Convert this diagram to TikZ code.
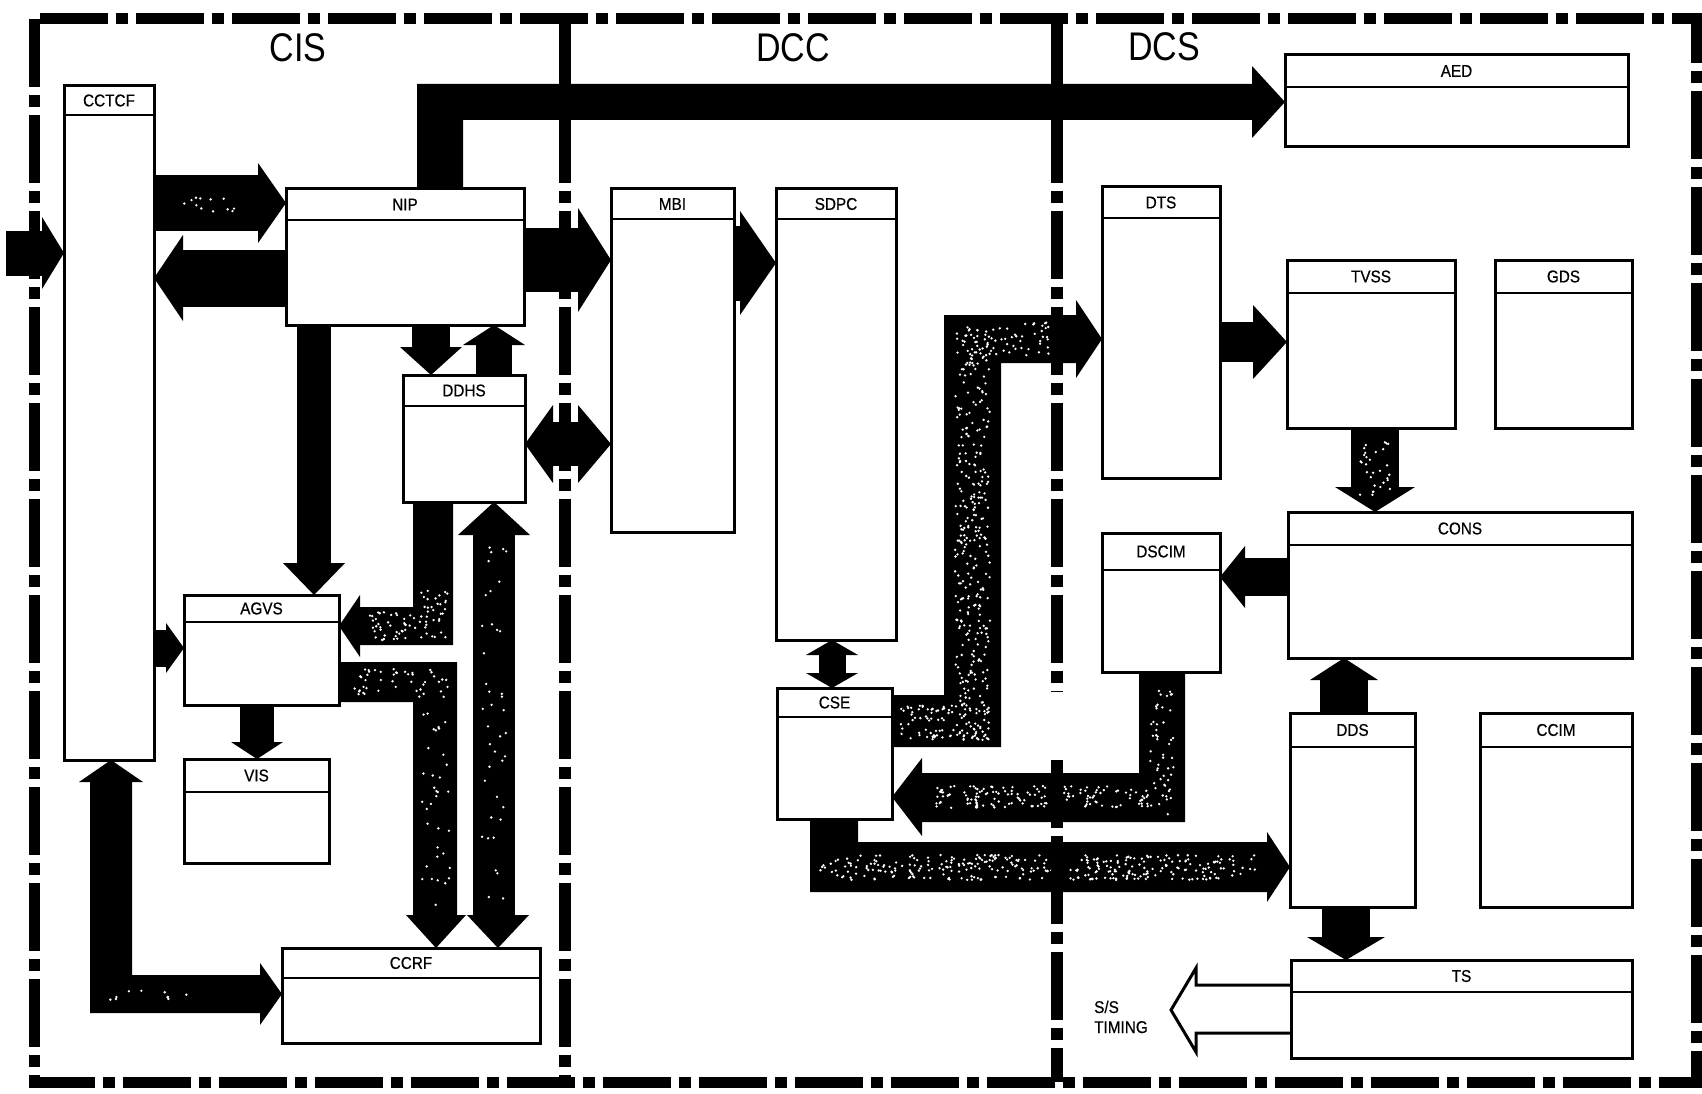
\documentclass[tikz,border=0pt]{standalone}
\usepackage{fontspec}
\usepackage{graphicx}
\setmainfont{Liberation Sans}
\newfontfamily\labfont{Liberation Sans}[FakeBold=0.6]
\usetikzlibrary{calc}
\pgfdeclarelayer{bg}
\pgfsetlayers{bg,main}
\tikzset{
 box/.style={draw, line width=3, fill=white, inner sep=0, outer sep=0, anchor=north west},
 hdr/.style={line width=2.2},
 lbl/.style={inner sep=0, font=\labfont\fontsize{17}{20}\selectfont},
 sect/.style={inner sep=0, font=\fontsize{40}{44}\selectfont},
 shaft/.style={draw=black, line width=#1, line cap=butt},
 divider/.style={draw=black, line width=12, dash pattern=on 68pt off 8pt on 12pt off 8pt},
 hollow/.style={draw=black, fill=white, line width=3, line join=miter},
}
\newcommand\unitbox[7]{%
 \node[box, minimum width=#4, minimum height=#5] (#1) at (#2,#3) {};
 \draw[hdr] ($(#1.north west)+(0,#6)$) -- ($(#1.north east)+(0,#6)$);
 \node[lbl] (#1-t) at ($(#1.north)+(0,#6/2)$) {\scalebox{0.9}[1]{#7}};}
\newcommand\headR[3]{\fill #1 -- ++(-#3,#2) -- ++(0,{-2*#2}) -- cycle;}
\newcommand\headL[3]{\fill #1 -- ++(#3,#2) -- ++(0,{-2*#2}) -- cycle;}
\newcommand\headD[3]{\fill #1 -- ++(#2,-#3) -- ++({-2*#2},0) -- cycle;}
\newcommand\headU[3]{\fill #1 -- ++(#2,#3) -- ++({-2*#2},0) -- cycle;}
\newcommand\speck[5]{\foreach \k in {1,...,#5}{\fill[white] ({#1+rnd*(#3-#1)},{#2+rnd*(#4-#2)}) circle[radius=1.3];}}
\begin{document}
\begin{tikzpicture}[x=1pt,y=-1pt]
\useasboundingbox (0,0) rectangle (1702,1094);
% ---- boxes ----
\unitbox{cctcf}{64}{86}{90}{674}{29}{CCTCF}
\unitbox{nip}{286}{189}{238}{136}{31}{NIP}
\unitbox{mbi}{611}{189}{123}{343}{30}{MBI}
\unitbox{sdpc}{776}{189}{120}{451}{30}{SDPC}
\unitbox{dts}{1102}{187}{118}{291}{31}{DTS}
\unitbox{aed}{1285}{55}{343}{92}{32}{AED}
\unitbox{tvss}{1287}{260}{168}{168}{33}{TVSS}
\unitbox{gds}{1495}{260}{137}{168}{33}{GDS}
\unitbox{ddhs}{403}{375}{122}{127}{31}{DDHS}
\unitbox{agvs}{184}{595}{155}{110}{27}{AGVS}
\unitbox{vis}{184}{759}{145}{104}{33}{VIS}
\unitbox{ccrf}{282}{948}{258}{95}{30}{CCRF}
\unitbox{cse}{777}{688}{115}{131}{29}{CSE}
\unitbox{dscim}{1102}{533}{118}{139}{37}{DSCIM}
\unitbox{cons}{1288}{512}{344}{146}{33}{CONS}
\unitbox{dds}{1290}{713}{125}{194}{34}{DDS}
\unitbox{ccim}{1480}{713}{152}{194}{34}{CCIM}
\unitbox{ts}{1291}{960}{341}{98}{32}{TS}
% ---- section labels ----
\node[sect] (cis) at (298,48) {\scalebox{0.85}[1]{CIS}};
\node[sect] (dcc) at (793,48) {\scalebox{0.85}[1]{DCC}};
\node[sect] (dcs) at (1164,47) {\scalebox{0.85}[1]{DCS}};
\node[lbl, anchor=base west] (ss1) at (1094,1013) {\scalebox{0.9}[1]{S/S}};
\node[lbl, anchor=base west] (ss2) at (1094,1033) {\scalebox{0.9}[1]{TIMING}};
\begin{pgfonlayer}{bg}
\fill[white] (0,0) rectangle (1702,1094);
\pgfmathsetseed{7}
% 1 input -> CCTCF
\coordinate (in1) at (6,253);
\draw[shaft=45] (in1) -- ($(cctcf.west |- in1)+(-21,0)$);
\headR{(cctcf.west |- in1)}{36}{22}
% 2 CCTCF -> NIP
\draw[shaft=55] (cctcf.east |- 0,203) -- ($(nip.west |- 0,203)+(-27,0)$);
\headR{(nip.west |- 0,203)}{40}{28}
\speck{175}{196}{235}{212}{12}
% 3 NIP -> CCTCF
\draw[shaft=57] (nip.west |- 0,278) -- ($(cctcf.east |- 0,278)+(28,0)$);
\headL{(cctcf.east |- 0,278)}{43}{29}
% 4 NIP -> MBI
\draw[shaft=64] (nip.east |- 0,260) -- ($(mbi.west |- 0,260)+(-32,0)$);
\headR{(mbi.west |- 0,260)}{52}{33}
% 5 MBI -> SDPC
\draw[shaft=75] (mbi.east |- 0,263) -- ($(sdpc.west |- 0,263)+(-35,0)$);
\headR{(sdpc.west |- 0,263)}{52}{36}
% 6 NIP -> AED
\fill (nip.north -| 417,0) -- (417,84) -- (1253,84) -- (1253,120) -- (463,120) -- (nip.north -| 463,0) -- cycle;
\headR{(aed.west |- 0,102)}{36}{33}
% 7 NIP -> DDHS
\draw[shaft=38] (nip.south -| 431,0) -- ($(ddhs.north -| 431,0)+(0,-27)$);
\headD{(ddhs.north -| 431,0)}{31}{28}
% 8 DDHS -> NIP
\draw[shaft=36] (ddhs.north -| 494,0) -- ($(nip.south -| 494,0)+(0,19)$);
\headU{(nip.south -| 494,0)}{31}{20}
% 9 NIP -> AGVS
\draw[shaft=34] (nip.south -| 314,0) -- ($(agvs.north -| 314,0)+(0,-31)$);
\headD{(agvs.north -| 314,0)}{31}{32}
% 10 DDHS -> AGVS
\fill (ddhs.south -| 413,0) -- (413,607) -- (359,607) -- (359,645) -- (453,645) -- (ddhs.south -| 453,0) -- cycle;
\headL{(agvs.east |- 0,626)}{31}{21}
\speck{370}{612}{448}{640}{55}
\speck{420}{590}{448}{615}{20}
% 11 AGVS -> CCRF
\fill (agvs.east |- 0,662) -- (457,662) -- (457,916) -- (413,916) -- (413,702) -- (agvs.east |- 0,702) -- cycle;
\headD{(ccrf.north -| 436,0)}{30}{33}
\speck{350}{668}{452}{698}{45}
\speck{422}{700}{450}{905}{35}
% 12 CCRF <-> DDHS
\draw[shaft=42] ($(ddhs.south -| 494,0)+(0,32)$) -- ($(ccrf.north -| 494,0)+(0,-32)$);
\headU{(ddhs.south -| 494,0)}{36}{33}
\headD{(ccrf.north -| 498,0)}{31}{33}
\speck{482}{545}{507}{900}{40}
% 13 CCTCF -> AGVS
\draw[shaft=37] (cctcf.east |- 0,648) -- ($(agvs.west |- 0,648)+(-17,0)$);
\headR{(agvs.west |- 0,648)}{25}{18}
% 14 AGVS -> VIS
\draw[shaft=34] (agvs.south -| 257,0) -- ($(vis.north -| 257,0)+(0,-16)$);
\headD{(vis.north -| 257,0)}{26}{17}
% 15 CCTCF <-> CCRF
\fill (90,781) -- (90,1013) -- (261,1013) -- (261,975) -- (132,975) -- (132,781) -- cycle;
\headU{(cctcf.south -| 111,0)}{32}{22}
\headR{(ccrf.west |- 0,994)}{31}{22}
\speck{105}{986}{215}{1000}{10}
% 16 DDHS <-> MBI
\draw[shaft=44] ($(ddhs.east |- 0,444)+(27,0)$) -- ($(mbi.west |- 0,444)+(-32,0)$);
\headL{(ddhs.east |- 0,444)}{39}{28}
\headR{(mbi.west |- 0,444)}{39}{33}
% 17 SDPC <-> CSE
\draw[shaft=27] ($(sdpc.south -| 832,0)+(0,14)$) -- ($(cse.north -| 832,0)+(0,-14)$);
\headU{(sdpc.south -| 832,0)}{26}{15}
\headD{(cse.north -| 832,0)}{26}{15}
% 18 CSE -> DTS
\fill (cse.east |- 0,695) -- (944,695) -- (944,315) -- (1077,315) -- (1077,363) -- (1001,363) -- (1001,747) -- (cse.east |- 0,747) -- cycle;
\headR{(dts.west |- 0,339)}{39}{26}
\speck{955}{330}{990}{740}{320}
\speck{900}{705}{990}{740}{90}
\speck{960}{322}{1060}{356}{60}
% 19 DTS -> TVSS
\draw[shaft=40] (dts.east |- 0,342) -- ($(tvss.west |- 0,342)+(-33,0)$);
\headR{(tvss.west |- 0,342)}{37}{34}
% 20 TVSS -> CONS
\draw[shaft=48] (tvss.south -| 1375,0) -- ($(cons.north -| 1375,0)+(0,-24)$);
\headD{(cons.north -| 1375,0)}{40}{25}
\speck{1360}{440}{1390}{495}{30}
% 21 CONS -> DSCIM
\draw[shaft=38] (cons.west |- 0,577) -- ($(dscim.east |- 0,577)+(24,0)$);
\headL{(dscim.east |- 0,577)}{31}{25}
% 22 DDS -> CONS
\draw[shaft=48] (dds.north -| 1344,0) -- ($(cons.south -| 1344,0)+(0,21)$);
\headU{(cons.south -| 1344,0)}{34}{22}
% 23 DSCIM -> CSE
\fill (dscim.south -| 1139,0) -- (1139,773) -- (921,773) -- (921,822) -- (1185,822) -- (dscim.south -| 1185,0) -- cycle;
\headL{(cse.east |- 0,797)}{39}{30}
\speck{935}{786}{1150}{808}{150}
\speck{1150}{690}{1175}{815}{50}
% 24 CSE -> DDS
\fill (cse.south -| 810,0) -- (810,892) -- (1268,892) -- (1268,842) -- (858,842) -- (cse.south -| 858,0) -- cycle;
\headR{(dds.west |- 0,867)}{35}{23}
\speck{820}{855}{1255}{880}{330}
% 25 DDS -> TS
\draw[shaft=48] (dds.south -| 1346,0) -- ($(ts.north -| 1346,0)+(0,-22)$);
\headD{(ts.north -| 1346,0)}{39}{23}
% 26 TS -> S/S timing (hollow)
\coordinate (sst) at (1171,1010);
\draw[hollow] (ts.west |- 0,985) -- (1196,985) -- (1196,968) -- (sst) -- (1196,1052) -- (1196,1033) -- (ts.west |- 0,1033);
% ---- dividers and border ----
\draw[divider] (565,19) -- (565,1082);
\draw[divider] (1057,19) -- (1057,692);
\draw[divider] (1057,760) -- (1057,1082);
\draw[divider, line width=11] (34,19) rectangle (1696,1082);
\end{pgfonlayer}
\end{tikzpicture}
\end{document}
